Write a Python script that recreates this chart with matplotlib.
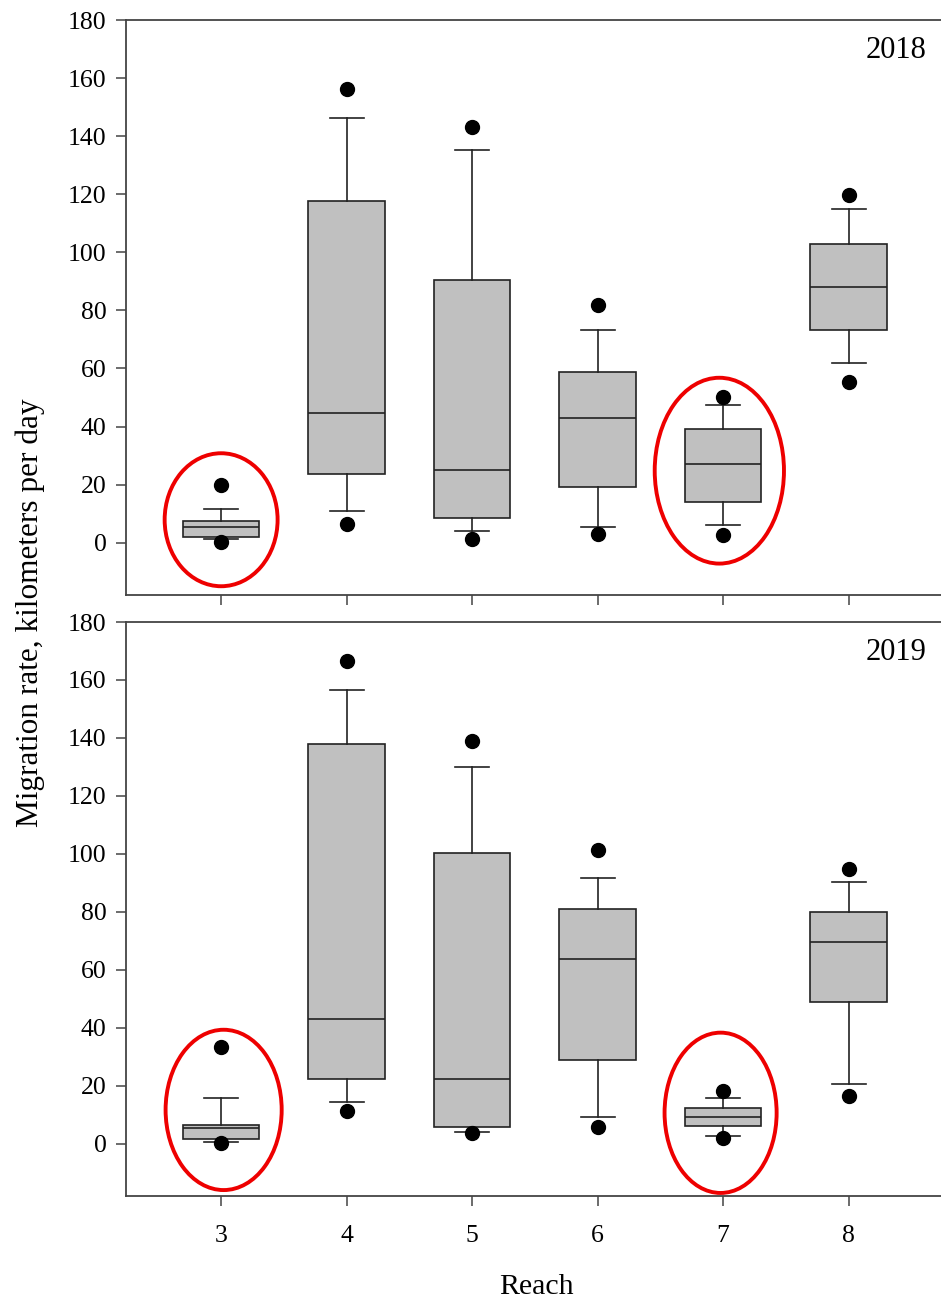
import matplotlib.pyplot as plt
from matplotlib.patches import Ellipse

plt.rcParams['font.family'] = ['Liberation Serif', 'DejaVu Serif']

reaches = [3, 4, 5, 6, 7, 8]

# 2018 box statistics per reach
q1_2018 = [2.0, 23.7, 8.6, 19.3, 14.1, 73.2]
med_2018 = [5.4, 44.7, 25.1, 43.0, 27.1, 88.1]
q3_2018 = [7.5, 117.7, 90.5, 58.8, 39.0, 103.0]
lo_2018 = [1.3, 11.0, 4.1, 5.5, 6.2, 61.9]
hi_2018 = [11.6, 146.2, 135.2, 73.3, 47.3, 115.0]
out_lo_2018 = [0.4, 6.5, 1.4, 3.1, 2.8, 55.5]
out_hi_2018 = [19.7, 156.2, 143.2, 81.9, 50.2, 119.7]

# 2019 box statistics per reach
q1_2019 = [1.6, 22.5, 5.9, 29.0, 6.0, 49.0]
med_2019 = [5.4, 43.2, 22.5, 63.9, 9.1, 69.7]
q3_2019 = [6.6, 137.9, 100.2, 80.9, 12.2, 79.9]
lo_2019 = [0.8, 14.5, 4.1, 9.3, 2.8, 20.7]
hi_2019 = [15.8, 156.5, 129.9, 91.6, 15.8, 90.3]
out_lo_2019 = [0.3, 11.4, 3.8, 5.9, 2.1, 16.4]
out_hi_2019 = [33.3, 166.6, 138.9, 101.2, 18.1, 94.7]

# highlighted reaches: (reach, y centre, width, height)
circles_2018 = [(3.0, 7.9, 0.90, 45.8), (6.97, 24.8, 1.03, 64.0)]
circles_2019 = [(3.02, 11.7, 0.925, 55.3), (6.98, 10.7, 0.893, 55.3)]


def make_stats(q1, med, q3, lo, hi, olo, ohi):
    stats = []
    for i in range(len(q1)):
        stats.append({'q1': q1[i], 'med': med[i], 'q3': q3[i],
                      'whislo': lo[i], 'whishi': hi[i],
                      'fliers': [olo[i], ohi[i]]})
    return stats


def draw_panel(ax, stats, year, circles):
    ax.bxp(stats, positions=reaches, widths=0.61, patch_artist=True,
           boxprops=dict(facecolor='#c0c0c0', edgecolor='#222222', linewidth=1.2),
           medianprops=dict(color='#222222', linewidth=1.2),
           whiskerprops=dict(color='#222222', linewidth=1.2),
           capprops=dict(color='#222222', linewidth=1.2),
           capwidths=0.27,
           flierprops=dict(marker='o', markerfacecolor='black',
                           markeredgecolor='black', markersize=10))
    for x, y, w, h in circles:
        ax.add_patch(Ellipse((x, y), w, h, fill=False, edgecolor='#ee0000',
                             linewidth=2.8, zorder=5))
    ax.set_xlim(2.242, 8.758)
    ax.set_ylim(-18, 180)
    ax.set_yticks(range(0, 181, 20))
    ax.set_xticks(reaches)
    ax.tick_params(direction='out', length=7, width=1.1, color='#444444',
                   labelsize=18.5, top=False, right=False)
    ax.tick_params(axis='y', pad=7)
    ax.tick_params(axis='x', pad=14)
    for sp in ax.spines.values():
        sp.set_color('#444444')
        sp.set_linewidth(1.3)
    ax.text(0.979, 0.947, year, transform=ax.transAxes, ha='right',
            va='center', fontsize=22)


fig = plt.figure(figsize=(9.41, 13.01), dpi=100)
ax1 = fig.add_axes([0.1339, 0.5427, 0.869, 0.4419])
ax2 = fig.add_axes([0.1339, 0.0807, 0.869, 0.4412])

draw_panel(ax1, make_stats(q1_2018, med_2018, q3_2018, lo_2018, hi_2018,
                           out_lo_2018, out_hi_2018), '2018', circles_2018)
draw_panel(ax2, make_stats(q1_2019, med_2019, q3_2019, lo_2019, hi_2019,
                           out_lo_2019, out_hi_2019), '2019', circles_2019)
ax1.set_xticklabels([])
ax2.set_xticklabels([str(r) for r in reaches])

fig.text(0.032, 1 - 613 / 1301, 'Migration rate, kilometers per day',
         rotation=90, ha='center', va='center', fontsize=22.5)
fig.text(536 / 941, 1 - 1287 / 1301, 'Reach', ha='center', va='center',
         fontsize=21.5)

fig.savefig('out.png', dpi=100)
